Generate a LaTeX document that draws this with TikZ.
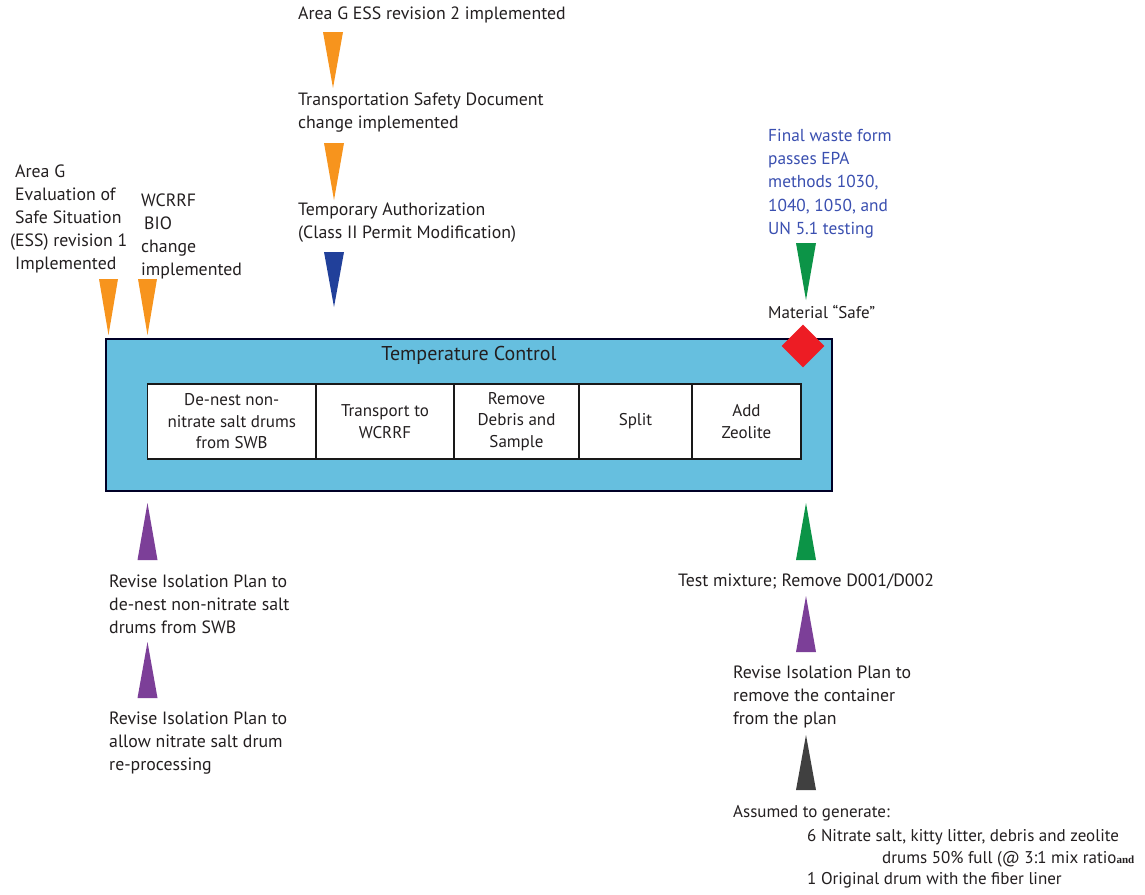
\documentclass[tikz,border=0pt]{standalone}
\usepackage{fontspec}
\setmainfont{PT Sans}
\newfontfamily\smallserif{Liberation Serif}
\usetikzlibrary{shapes.geometric}
\definecolor{txt}{HTML}{231F20}
\definecolor{tcblue}{HTML}{66BFDF}
\definecolor{orng}{HTML}{F7941D}
\definecolor{dblue}{HTML}{21409A}
\definecolor{grn}{HTML}{0C9447}
\definecolor{purp}{HTML}{7C3F98}
\definecolor{dgray}{HTML}{404040}
\definecolor{rd}{HTML}{ED1C24}
\definecolor{bluetxt}{HTML}{3A4FB0}
\begin{document}
\begin{tikzpicture}[x=1pt,y=-1pt,
  lbl/.style={font=\fontsize{17.8}{23}\selectfont, text=txt, anchor=north west, inner sep=0pt, align=left},
  cell/.style={draw=black!90, fill=white, line width=1.3pt, font=\fontsize{17}{21.5}\selectfont, text=txt, align=center, minimum height=75pt, inner sep=0pt, outer sep=0pt, anchor=west},
]
\useasboundingbox (0,0) rectangle (1145,894);
\fill[white] (0,0) rectangle (1145,894);

% main box
\node[draw=black!85!blue, line width=1.5pt, fill=tcblue, minimum width=726pt, minimum height=152pt, inner sep=0pt] (tc) at (469,415) {};
\node[font=\fontsize{20}{22}\selectfont, text=txt, inner sep=0pt] (tctitle) at (469,355) {Temperature Control};

\node[cell, minimum width=168.5pt] (c1) at (147.5,421.5) {De-nest non-\\nitrate salt drums\\from SWB};
\node[cell, minimum width=138pt] (c2) at (c1.east) {Transport to\\WCRRF};
\node[cell, minimum width=125pt] (c3) at (c2.east) {Remove\\Debris and\\Sample};
\node[cell, minimum width=113pt] (c4) at (c3.east) {Split};
\node[cell, minimum width=109pt] (c5) at (c4.east) {Add\\Zeolite};

% diamond
\node[diamond, aspect=1, fill=rd, minimum width=43pt, minimum height=43pt, inner sep=0pt] (safe) at (803,346) {};

% triangles (down)
\fill[orng] (99,279) -- (118,279) -- (108.5,335) -- cycle;
\fill[orng] (138,279) -- (157,279) -- (147.5,335) -- cycle;
\fill[orng] (323,32) -- (343,32) -- (333,88) -- cycle;
\fill[orng] (324,143) -- (344,143) -- (334,200) -- cycle;
\fill[dblue] (324,252) -- (344,252) -- (334,307) -- cycle;
\fill[grn] (796,243) -- (816,243) -- (806,300) -- cycle;
% triangles (up)
\fill[purp] (137.5,560) -- (157.5,560) -- (147.5,503) -- cycle;
\fill[purp] (137.5,698) -- (157.5,698) -- (147.5,642) -- cycle;
\fill[grn] (796,560) -- (816,560) -- (806,503) -- cycle;
\fill[purp] (796,652) -- (816,652) -- (806,596) -- cycle;
\fill[dgray] (796,790) -- (816,790) -- (806,735) -- cycle;

% labels
\node[lbl] (ess2) at (298,7) {Area G ESS revision 2 implemented};
\node[lbl] (tsd) at (298,93) {Transportation Safety Document\\change implemented};
\node[lbl] (ta) at (298,203) {Temporary Authorization\\(Class II Permit Modification)};
\node[lbl] (ess1) at (10,165) {\hspace{5pt}Area G\\\hspace{5pt}Evaluation of\\\hspace{5pt}Safe Situation\\(ESS) revision 1\\\hspace{5pt}Implemented};
\node[lbl] (bio) at (141,194) {WCRRF\\\hspace{3pt}BIO\\change\\implemented};
\node[lbl, text=bluetxt, font=\fontsize{17.3}{23.2}\selectfont] (epa) at (768,129) {Final waste form\\passes EPA\\methods 1030,\\1040, 1050, and\\UN 5.1 testing};
\node[lbl, font=\fontsize{17}{23}\selectfont] (mat) at (768,305) {Material “Safe”};

\node[lbl] (rip1) at (109,575) {Revise Isolation Plan to\\de-nest non-nitrate salt\\drums from SWB};
\node[lbl] (rip2) at (109,712) {Revise Isolation Plan to\\allow nitrate salt drum\\re-processing};
\node[lbl] (test) at (678,574) {Test mixture; Remove D001/D002};
\node[lbl] (rip3) at (733,666) {Revise Isolation Plan to\\remove the container\\from the plan};
\node[lbl, font=\fontsize{17}{22}\selectfont] (ass) at (733,805) {Assumed to generate:};
\node[lbl, font=\fontsize{17}{22}\selectfont] (six) at (807,829) {6 Nitrate salt, kitty litter, debris and zeolite};
\node[lbl, font=\fontsize{17}{22}\selectfont] (drums) at (882,851) {drums 50\% full (@ 3:1 mix ratio{\smallserif\fontsize{11}{12}\selectfont\bfseries and}};
\node[lbl, font=\fontsize{17}{22}\selectfont] (one) at (807,872) {1 Original drum with the fiber liner};
\end{tikzpicture}
\end{document}
